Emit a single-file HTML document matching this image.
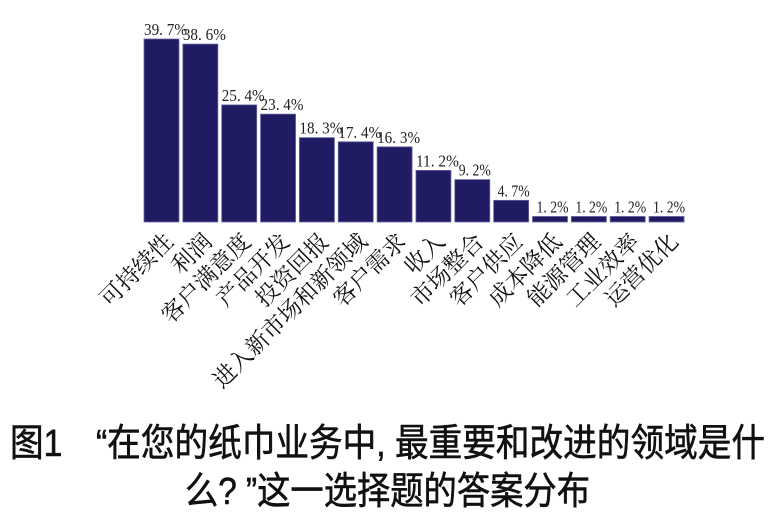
<!DOCTYPE html>
<html><head><meta charset="utf-8"><style>
html,body{margin:0;padding:0;background:#fff;}
svg{display:block}
</style></head><body>
<svg width="775" height="516" xmlns="http://www.w3.org/2000/svg">
<g id="bars" fill="#201c63" stroke="#6a66a0" stroke-width="0.8"></g>
<g id="vals" font-family="'Liberation Serif','Noto Serif CJK SC',serif" font-size="17" fill="#222"></g>
<g id="labs" font-family="'Liberation Serif','Noto Serif CJK SC',serif" font-size="23" fill="#111" text-anchor="end"></g>
<g font-family="'Liberation Sans','Noto Sans CJK SC',sans-serif" font-size="38" fill="#111" stroke="#111" stroke-width="0.6">
<text x="10" y="456" textLength="755" lengthAdjust="spacingAndGlyphs">图1　“在您的纸巾业务中, 最重要和改进的领域是什</text>
<text x="185" y="504" textLength="405" lengthAdjust="spacingAndGlyphs">么? ”这一选择题的答案分布</text>
</g>
<script>
var vals=[39.7,38.6,25.4,23.4,18.3,17.4,16.3,11.2,9.2,4.7,1.2,1.2,1.2,1.2];
var labs=["可持续性","利润","客户满意度","产品开发","投资回报","进入新市场和新领域","客户需求","收入","市场整合","客户供应","成本降低","能源管理","工业效率","运营优化"];
var ns="http://www.w3.org/2000/svg",B=document.getElementById('bars'),V=document.getElementById('vals'),L=document.getElementById('labs');
var base=222,k=4.61;
vals.forEach(function(v,i){
 var x=144+i*38.85,w=35,h=v*k,cx=x+w/2;
 var r=document.createElementNS(ns,'rect');r.setAttribute('x',x);r.setAttribute('y',base-h);r.setAttribute('width',w);r.setAttribute('height',h);B.appendChild(r);
 var s=v.toFixed(1).replace('.','. ')+'%';
 var t=document.createElementNS(ns,'text');t.setAttribute('x',v>=10?x:x+4);t.setAttribute('y',base-h-4);t.setAttribute('textLength',v>=10?'43':'32');t.setAttribute('lengthAdjust','spacingAndGlyphs');t.textContent=s;V.appendChild(t);
 var l=document.createElementNS(ns,'text');var ax=cx+13,ay=243;l.setAttribute('x',ax);l.setAttribute('y',ay);l.setAttribute('transform','rotate(-45 '+ax+' '+ay+')');l.textContent=labs[i];L.appendChild(l);
});
</script>
</svg>
</body></html>
